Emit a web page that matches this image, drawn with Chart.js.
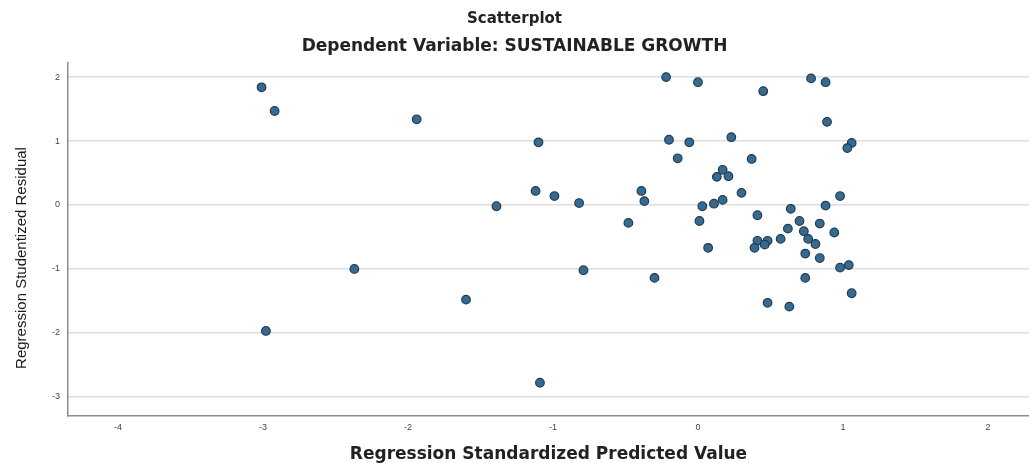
<!DOCTYPE html>
<html>
<head>
<meta charset="utf-8">
<script src="https://cdn.jsdelivr.net/npm/chart.js@4.4.1/dist/chart.umd.min.js"></script>
<style>
  html, body { margin: 0; padding: 0; background: #fff; }
  #wrap { width: 1029px; height: 463px; }
</style>
</head>
<body>
<div id="wrap"><canvas id="scatter1"></canvas></div>
<script>
// predicted values (standardized) and studentized residuals
const predicted = [
  -3.01, -2.92, -1.94, -1.10, -1.12, -0.99, -1.39, -0.82, -0.48, -0.39,
  -0.37, -2.37, -0.79, -0.30, -1.60, -2.98, -1.09,
  -0.22, 0.00, 0.45, 0.78, 0.88, 0.89, 1.06, 1.03, -0.20, -0.06,
  0.23, -0.14, 0.37, 0.17, 0.13, 0.21,
  0.30, 0.03, 0.11, 0.17, 0.01, 0.41, 0.64, 0.98, 0.88, 0.70,
  0.84, 0.62, 0.73, 0.94, 0.57, 0.41, 0.48, 0.39, 0.46, 0.76,
  0.81, 0.07, 0.74, 0.84, 0.98, 1.04, 0.74, 1.06, 0.48, 0.63
];
const residuals = [
  1.84, 1.47, 1.34, 0.98, 0.22, 0.14, -0.02, 0.03, -0.28, 0.22,
  0.06, -1.00, -1.02, -1.14, -1.48, -1.97, -2.78,
  2.00, 1.92, 1.78, 1.98, 1.92, 1.30, 0.97, 0.89, 1.02, 0.98,
  1.06, 0.73, 0.72, 0.55, 0.44, 0.45,
  0.19, -0.02, 0.02, 0.08, -0.25, -0.16, -0.06, 0.14, -0.01, -0.25,
  -0.29, -0.37, -0.41, -0.43, -0.53, -0.56, -0.56, -0.67, -0.62, -0.53,
  -0.61, -0.67, -0.76, -0.83, -0.98, -0.94, -1.14, -1.38, -1.53, -1.59
];
const xTicks = [-4, -3, -2, -1, 0, 1, 2];
const yTicks = [-3, -2, -1, 0, 1, 2];
const yTitle = 'Regression Studentized Residual';

const points = predicted.map((x, i) => ({ x: x, y: residuals[i] }));

Chart.defaults.font.family = '"Liberation Sans", Arial, sans-serif';
Chart.defaults.color = '#333';

// y axis title sits a bit lower than the chart area centre, so draw it by hand
const yTitlePlugin = {
  id: 'yTitle',
  afterDraw(chart) {
    const ctx = chart.ctx;
    ctx.save();
    ctx.translate(22, 258);
    ctx.rotate(-Math.PI / 2);
    ctx.font = '15px "Liberation Sans Narrow", "Liberation Sans", sans-serif';
    ctx.fillStyle = '#1a1a1a';
    ctx.textAlign = 'center';
    ctx.textBaseline = 'middle';
    ctx.fillText(yTitle, 0, 0);
    ctx.restore();
  }
};

new Chart(
  document.getElementById('scatter1'),
  {
    type: 'scatter',
    data: {
      datasets: [
        {
          data: points,
          backgroundColor: '#386a90',
          borderColor: '#1d3c55',
          borderWidth: 1.2,
          pointRadius: 4.3,
        }
      ]
    },
    plugins: [yTitlePlugin],
    options: {
      responsive: true,
      maintainAspectRatio: false,
      animation: false,
      // no auto padding, the grid runs right to the edge
      layout: { autoPadding: false, padding: 0 },
      plugins: {
        legend: { display: false },
        tooltip: { enabled: false },
        title: {
          display: true,
          text: 'Scatterplot',
          color: '#222',
          font: { family: '"DejaVu Sans", sans-serif', size: 15, weight: 'bold' },
          padding: { top: 10, bottom: 4 },
        },
        subtitle: {
          display: true,
          text: 'Dependent Variable: SUSTAINABLE GROWTH',
          color: '#222',
          font: { family: '"DejaVu Sans", sans-serif', size: 17, weight: 'bold' },
          padding: { top: 4, bottom: 6 },
        }
      },
      scales: {
        x: {
          type: 'linear',
          min: -4.345,
          max: 2.283,
          afterBuildTicks: (scale) => { scale.ticks = xTicks.map(v => ({ value: v })); },
          afterFit: (scale) => { scale.height = 47; },
          grid: { display: false, drawTicks: false },
          border: { display: true, color: '#8c8c8c', width: 1.5 },
          ticks: { font: { size: 9 }, color: '#444', padding: 6 },
          title: {
            display: true,
            text: 'Regression Standardized Predicted Value',
            color: '#222',
            font: { family: '"DejaVu Sans", sans-serif', size: 17, weight: 'bold' },
            padding: { top: 0, bottom: -2 },
          }
        },
        y: {
          type: 'linear',
          min: -3.3,
          max: 2.23,
          afterBuildTicks: (scale) => { scale.ticks = yTicks.map(v => ({ value: v })); },
          afterFit: (scale) => { scale.width = 68; },
          grid: { color: '#dedede', lineWidth: 1.5, drawTicks: false },
          border: { display: true, color: '#8c8c8c', width: 1.5 },
          ticks: { font: { size: 9 }, color: '#444', padding: 8 },
          title: { display: false }
        }
      }
    }
  }
);
</script>
</body>
</html>
